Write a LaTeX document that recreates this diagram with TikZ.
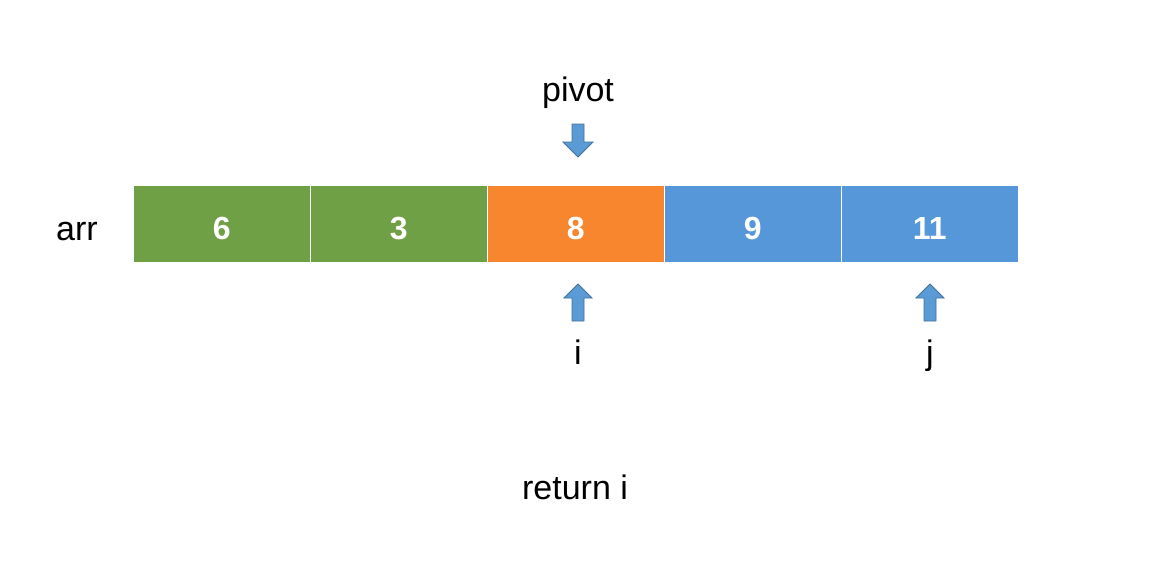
\documentclass[tikz,border=0pt]{standalone}
\usepackage{fontspec}
\setmainfont{Liberation Sans}
\definecolor{cgreen}{HTML}{70A045}
\definecolor{corange}{HTML}{F7862F}
\definecolor{cblue}{HTML}{5597D8}
\definecolor{afill}{HTML}{5B9BD5}
\definecolor{aline}{HTML}{41719C}
\newcommand{\lowr}{\rule{0pt}{31pt}}
\begin{document}
\begin{tikzpicture}[x=1pt,y=-1pt,
  cell/.style={draw=white,line width=1.5pt,minimum width=177pt,minimum height=77pt,inner sep=0pt,anchor=north west,text=white,font=\fontsize{32}{36}\selectfont\bfseries},
  lbl/.style={font=\fontsize{34}{40}\selectfont,inner sep=0pt,anchor=base},
  arr/.style={fill=afill,draw=aline,line width=0.8pt,line join=miter}]
\useasboundingbox (0,0) rectangle (1153,581);
\node[cell,fill=cgreen] (c1) at (132.5,184.5) {\lowr 6};
\node[cell,fill=cgreen] (c2) at (309.5,184.5) {\lowr 3};
\node[cell,fill=corange] (c3) at (486.5,184.5) {\lowr 8};
\node[cell,fill=cblue] (c4) at (663.5,184.5) {\lowr 9};
\node[cell,fill=cblue] (c5) at (840.5,184.5) {\lowr 11};
\node[lbl] (arr) at (77,240) {arr};
\node[lbl] (pivot) at (578,101) {pivot};
\node[lbl] (i) at (578,364) {i};
\node[lbl] (j) at (930,364) {j};
\node[lbl] (ret) at (575,499) {return i};
% down arrow (pivot)
\draw[arr] (572,124) -- (584,124) -- (584,142) -- (593,142) -- (578,157) -- (563,142) -- (572,142) -- cycle;
% up arrow (i)
\draw[arr] (572,321) -- (584,321) -- (584,298) -- (592,298) -- (578,284) -- (564,298) -- (572,298) -- cycle;
% up arrow (j)
\draw[arr] (924,321) -- (936,321) -- (936,298) -- (944,298) -- (930,284) -- (916,298) -- (924,298) -- cycle;
\end{tikzpicture}
\end{document}
